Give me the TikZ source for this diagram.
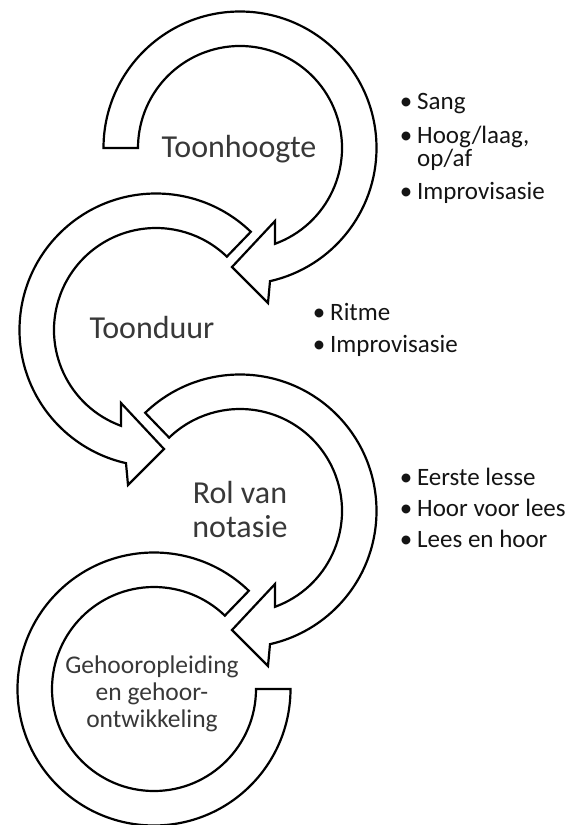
\documentclass[tikz,border=0pt]{standalone}
\usepackage{fontspec}
\setmainfont{Carlito}
\usepackage{tikz}
\usetikzlibrary{positioning}

\newcommand{\Rout}{136.5}
\newcommand{\Rin}{102}

\begin{document}
\begin{tikzpicture}[
  x=1pt, y=1pt,
  band/.style={draw=black, line width=2.2pt, fill=white, line join=miter},
  title/.style={anchor=base, align=center, text=black!78, inner sep=0pt},
  item/.style={anchor=base west, align=left, text=black!92, inner sep=0pt,
    font=\fontsize{25}{21}\selectfont}
]
\useasboundingbox (0,0) rectangle (573,-825);

% Centres of the four circle arrows
\coordinate (c1) at (240,-148);
\coordinate (c2) at (156,-330);
\coordinate (c3) at (240,-511);
\coordinate (c4) at (154,-689);

% Arrow 1 (clockwise)
\draw[band] ([shift={(180:\Rout)}]c1) arc[start angle=180, end angle=-77.3, radius=\Rout]
  -- ([shift={(28,-155)}]c1) -- ([shift={(-8,-119)}]c1) -- ([shift={(35,-73)}]c1)
  -- ([shift={(-70:\Rin)}]c1) arc[start angle=-70, end angle=180, radius=\Rin] -- cycle;

% Arrow 2 (anticlockwise)
\draw[band] ([shift={(46:\Rout)}]c2) arc[start angle=46, end angle=257.3, radius=\Rout]
  -- ([shift={(-28,-155)}]c2) -- ([shift={(8,-119)}]c2) -- ([shift={(-35,-73)}]c2)
  -- ([shift={(250:\Rin)}]c2) arc[start angle=250, end angle=46, radius=\Rin] -- cycle;

% Arrow 3 (clockwise)
\draw[band] ([shift={(134:\Rout)}]c3) arc[start angle=134, end angle=-77.3, radius=\Rout]
  -- ([shift={(28,-155)}]c3) -- ([shift={(-8,-119)}]c3) -- ([shift={(35,-73)}]c3)
  -- ([shift={(-70:\Rin)}]c3) arc[start angle=-70, end angle=134, radius=\Rin] -- cycle;

% Last ring, no head
\draw[band] ([shift={(46:\Rout)}]c4) arc[start angle=46, end angle=360, radius=\Rout]
  -- ([shift={(0:\Rin)}]c4) arc[start angle=360, end angle=46, radius=\Rin] -- cycle;

% Titles (base = last line)
\node[title, font=\fontsize{32}{34}\selectfont] (pitch) at (239,-157) {Toonhoogte};
\node[title, font=\fontsize{32}{34}\selectfont] (duration) at (152,-338) {Toonduur};
\node[title, font=\fontsize{32}{34}\selectfont] (notation) at (240,-537) {Rol van\\notasie};
\node[title, font=\fontsize{25.5}{27}\selectfont] (hearing) at (152,-727)
  {Gehooropleiding\\en gehoor-\\ontwikkeling};

% Bullet lists
\node[item] (pitchA) at (417,-109) {\llap{\makebox[22pt]{\textbullet}}Sang};
\node[item] (pitchB) at (417,-166) {\llap{\makebox[22pt]{\textbullet}}Hoog/laag,\\op/af};
\node[item] (pitchC) at (417,-199) {\llap{\makebox[22pt]{\textbullet}}Improvisasie};

\node[item] (durA) at (330,-320) {\llap{\makebox[22pt]{\textbullet}}Ritme};
\node[item] (durB) at (330,-352) {\llap{\makebox[22pt]{\textbullet}}Improvisasie};

\node[item] (notA) at (417,-485) {\llap{\makebox[22pt]{\textbullet}}Eerste lesse};
\node[item] (notB) at (417,-516) {\llap{\makebox[22pt]{\textbullet}}Hoor voor lees};
\node[item] (notC) at (417,-547) {\llap{\makebox[22pt]{\textbullet}}Lees en hoor};

\end{tikzpicture}
\end{document}
